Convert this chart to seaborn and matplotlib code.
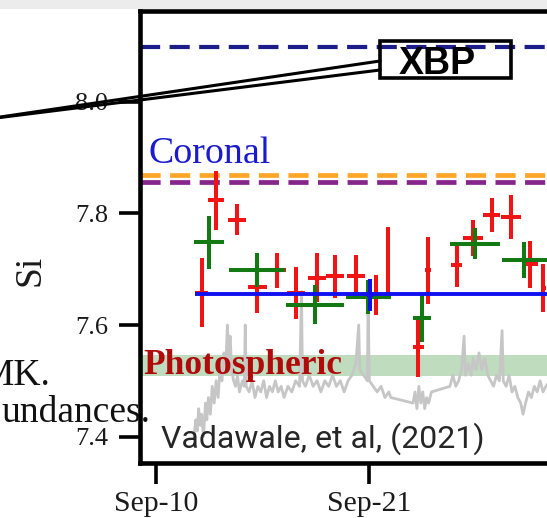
import matplotlib
matplotlib.use("Agg")
import matplotlib.pyplot as plt
import seaborn as sns
from matplotlib.lines import Line2D
from matplotlib.patches import Rectangle

# ---------------- data ----------------
x_tick_pos = [0, 11]                      # days after Sep-10
x_tick_labels = ["Sep-10", "Sep-21"]
y_ticks = [7.4, 7.6, 7.8, 8.0]

# red measurements: day, value, x-error, y-error
red_day = [2.36, 3.09, 4.19, 5.22, 6.22, 7.22, 8.28, 9.23, 10.31, 11.34, 11.94,
           13.53, 14.0, 15.5, 16.36, 17.3, 18.3, 19.28, 19.97]
red_val = [7.658, 7.824, 7.789, 7.669, 7.698, 7.657, 7.685, 7.687, 7.687, 7.654, 7.713,
           7.561, 7.698, 7.708, 7.756, 7.797, 7.794, 7.709, 7.667]
red_xerr = [0.33, 0.39, 0.46, 0.49, 0.46, 0.47, 0.47, 0.47, 0.47, 0.15, 0.10,
            0.26, 0.15, 0.29, 0.52, 0.45, 0.50, 0.39, 0.15]
red_yerr = [0.062, 0.053, 0.028, 0.047, 0.031, 0.047, 0.044, 0.039, 0.039, 0.036, 0.063,
            0.055, 0.060, 0.039, 0.033, 0.030, 0.040, 0.042, 0.043]

# green measurements
green_day = [2.73, 5.19, 8.2, 10.94, 13.7, 16.44, 18.98]
green_val = [7.748, 7.699, 7.636, 7.650, 7.612, 7.746, 7.716]
green_xerr = [0.75, 1.44, 1.5, 1.16, 0.47, 1.29, 1.16]
green_yerr = [0.047, 0.030, 0.035, 0.030, 0.043, 0.028, 0.032]

# blue measurement
blue_day = [11.03]
blue_val = [7.654]
blue_xerr = [0.15]
blue_yerr = [0.028]

# reference levels
xbp_level = 8.099
orange_level = 7.869
purple_level = 7.857
mean_level = 7.656
mean_start = 2.01
photo_low, photo_high = 7.509, 7.547

# background light curve (gray)
lc_day = [1.96, 2.05, 2.12, 2.2, 2.28, 2.35, 2.45, 2.55, 2.62, 2.7, 2.8, 2.9, 3.0, 3.1,
          3.2, 3.3, 3.4, 3.5, 3.6, 3.68, 3.75, 3.82, 3.9, 4.0, 4.1, 4.2, 4.3, 4.45,
          4.55, 4.6, 4.65, 4.8, 4.95, 5.1, 5.25, 5.4, 5.55, 5.7, 5.85, 6.0, 6.15, 6.3,
          6.45, 6.6, 6.8, 7.0, 7.2, 7.4, 7.5, 7.55, 7.7, 7.9, 8.1, 8.3, 8.5, 8.7, 8.9,
          9.1, 9.3, 9.5, 9.7, 9.9, 10.1, 10.3, 10.45, 10.5, 10.7, 10.9, 10.93, 11.0,
          11.2, 11.4, 11.6, 11.8, 12.0, 12.1,
          13.25, 13.35, 13.45, 13.55, 13.65, 13.75, 13.85, 13.95, 14.05, 14.2,
          15.15, 15.3, 15.45, 15.6, 15.75, 15.88, 15.95, 16.1, 16.25, 16.35, 16.5,
          16.65, 16.8, 16.95, 17.1, 17.25, 17.4, 17.55, 17.7, 17.84, 17.9, 18.05,
          18.2, 18.35, 18.5, 18.65, 18.8, 18.92, 19.05, 19.2, 19.35, 19.5, 19.65,
          19.8, 19.95, 20.1, 20.3]
lc_val = [7.40, 7.43, 7.41, 7.45, 7.42, 7.44, 7.40, 7.46, 7.43, 7.47, 7.44, 7.49, 7.46, 7.50,
          7.47, 7.52, 7.50, 7.55, 7.53, 7.60, 7.54, 7.58, 7.52, 7.50, 7.49, 7.51, 7.48, 7.50,
          7.49, 7.60, 7.49, 7.48, 7.50, 7.47, 7.49, 7.48, 7.50, 7.47, 7.49, 7.48, 7.50, 7.48,
          7.49, 7.47, 7.49, 7.48, 7.50, 7.49, 7.66, 7.50, 7.49, 7.51, 7.49, 7.50, 7.48, 7.50, 7.49,
          7.51, 7.49, 7.50, 7.48, 7.50, 7.51, 7.53, 7.60, 7.52, 7.51, 7.50, 7.64, 7.50,
          7.49, 7.48, 7.49, 7.47, 7.48, 7.47,
          7.46, 7.48, 7.45, 7.49, 7.46, 7.48, 7.45, 7.47, 7.46, 7.48,
          7.49, 7.51, 7.49, 7.50, 7.52, 7.58, 7.51, 7.53, 7.51, 7.54, 7.52,
          7.55, 7.52, 7.54, 7.51, 7.50, 7.49, 7.51, 7.50, 7.59, 7.50, 7.49,
          7.51, 7.48, 7.49, 7.47, 7.46, 7.44, 7.46, 7.48, 7.47, 7.49, 7.48,
          7.50, 7.48, 7.49, 7.50]

# ---------------- style ----------------
sns.set_theme(style="white")
plt.rcParams["font.family"] = ["Liberation Serif", "DejaVu Serif"]
plt.rcParams["lines.scale_dashes"] = False

W, H = 547, 518
fig = plt.figure(figsize=(W / 100, H / 100), dpi=100)
fig.patch.set_facecolor("white")

def fx(px):
    return px / W

def fy(py):
    return 1 - py / H

# top gray strip of the slide
fig.add_artist(Rectangle((0, fy(8.5)), 1, 8.5 / H, transform=fig.transFigure,
                         facecolor="#ececec", edgecolor="none", zorder=0))

ax_left, ax_right, ax_top, ax_bot = 140, 600, 10.5, 463.3
ax = fig.add_axes([fx(ax_left), fy(ax_bot), (ax_right - ax_left) / W, (ax_bot - ax_top) / H])
ax.set_facecolor("none")

px_per_day = 19.4
ax.set_xlim((ax_left - 156) / px_per_day, (ax_right - 156) / px_per_day)
ax.set_ylim(7.352, 8.164)

# band and reference lines
ax.axhspan(photo_low, photo_high, color="#2e8b2e", alpha=0.3, lw=0, zorder=1)
sns.lineplot(x=lc_day, y=lc_val, sort=False, estimator=None, color="#c6c6c6",
             lw=2.0, ax=ax, zorder=1.5)

dash = (0, (14.5, 6.8))
ax.axhline(xbp_level, color="#1c1c8a", lw=3.0, ls=dash, zorder=2)
ax.axhline(orange_level, color="#ffa628", lw=3.4, ls=dash, zorder=2)
ax.axhline(purple_level, color="#86258a", lw=3.4, ls=dash, zorder=2)

ax.errorbar(red_day, red_val, xerr=red_xerr, yerr=red_yerr, fmt="none",
            ecolor="#f01414", elinewidth=2.9, capsize=0, zorder=3)
ax.errorbar(green_day, green_val, xerr=green_xerr, yerr=green_yerr, fmt="none",
            ecolor="#137a13", elinewidth=2.9, capsize=0, zorder=4)
ax.hlines(mean_level, mean_start, 40, color="#1010f0", lw=2.8, zorder=5)
ax.errorbar(blue_day, blue_val, xerr=blue_xerr, yerr=blue_yerr, fmt="none",
            ecolor="#1010f0", elinewidth=2.9, capsize=0, zorder=5)

# text in axes
ax.text(fx(149), fy(163), "Coronal", transform=fig.transFigure, color="#1a1ad0",
        fontsize=27.3, ha="left", va="baseline", zorder=6)
ax.text(fx(143), fy(374), "Photospheric", transform=fig.transFigure, color="#b00a0a",
        fontsize=25.5, fontweight="bold", ha="left", va="baseline", zorder=6)
ax.text(fx(161), fy(448), "Vadawale, et al, (2021)", transform=fig.transFigure,
        color="#262626", fontsize=23, family=["Roboto", "DejaVu Sans"],
        ha="left", va="baseline", zorder=6)

# axes styling
ax.set_xticks(x_tick_pos)
ax.set_xticklabels(x_tick_labels, fontsize=21.5)
ax.set_yticks(y_ticks)
ax.set_yticklabels([f"{v:.1f}" for v in y_ticks], fontsize=19)
ax.tick_params(axis="both", direction="out", length=15, width=2.6, color="black",
               labelcolor="#1a1a1a", bottom=True, left=True)
ax.tick_params(axis="y", pad=8)
ax.tick_params(axis="x", pad=5)
for side in ["left", "top", "bottom", "right"]:
    ax.spines[side].set_color("black")
    ax.spines[side].set_linewidth(3.3)
ax.set_ylabel("")
ax.set_xlabel("")

# y label "Si"
fig.text(fx(30), fy(270), "Si", rotation=90, fontsize=27, ha="center", va="center",
         color="#1a1a1a")

# slide text fragments at the left
fig.text(fx(51), fy(385), "MK.", fontsize=27, ha="right", va="baseline", color="#111111")
fig.text(fx(150), fy(421.7), "undances.", fontsize=27, ha="right", va="baseline",
         color="#111111", zorder=10)

# XBP callout
for (x0, y0) in [(380, 61), (380, 70)]:
    fig.add_artist(Line2D([fx(x0), fx(-20)], [fy(y0), fy(120)], transform=fig.transFigure,
                          color="black", lw=2.2, zorder=10))
fig.add_artist(Rectangle((fx(380), fy(78.3)), (511 - 380) / W, (78.3 - 40.7) / H,
                         transform=fig.transFigure, facecolor="none", edgecolor="black",
                         lw=2.6, zorder=10))
fig.text(fx(437.5), fy(74), "XBP", fontsize=27, fontweight="bold",
         family=["Liberation Sans", "DejaVu Sans"], ha="center", va="baseline",
         color="black", zorder=11)

fig.savefig("out.png", dpi=100)
